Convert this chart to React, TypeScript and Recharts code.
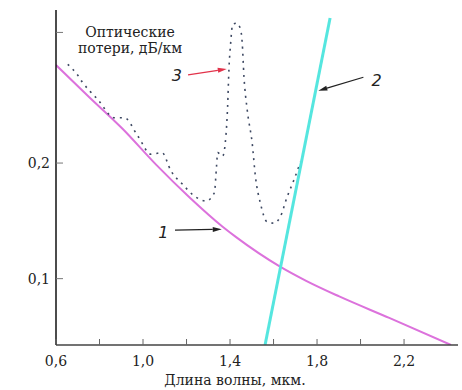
import React from "react";
import {
  LineChart, Line, XAxis, YAxis, ReferenceLine, ReferenceDot,
} from "recharts";

// wavelength, mkm -> losses, dB/km
const RAYLEIGH_X = [0.6, 0.753, 0.907, 1.06, 1.213, 1.366, 1.428, 1.63, 1.75, 1.902, 2.132, 2.416];
const RAYLEIGH_Y = [0.2848, 0.2569, 0.2294, 0.1986, 0.1704, 0.1449, 0.1359, 0.1104, 0.0981, 0.0846, 0.066, 0.0426];

const IR_X = [1.561, 1.86];
const IR_Y = [0.0426, 0.3255];

const TOTAL_X = [
  0.654, 0.696, 0.723, 0.757, 0.792, 0.868, 0.914, 0.976, 1.037, 1.087, 1.129, 1.182, 1.236, 1.29,
  1.328, 1.338, 1.343, 1.366, 1.381, 1.389, 1.395, 1.403, 1.412, 1.43, 1.448, 1.456, 1.464, 1.479,
  1.502, 1.517, 1.54, 1.571, 1.6, 1.63, 1.663, 1.693, 1.724,
];
const TOTAL_Y = [
  0.2854, 0.277, 0.2695, 0.262, 0.255, 0.2392, 0.2392, 0.2234, 0.2076, 0.209, 0.193, 0.1816, 0.1715, 0.1672,
  0.1743, 0.1974, 0.209, 0.206, 0.2234, 0.2493, 0.281, 0.304, 0.32, 0.321, 0.316, 0.304, 0.275, 0.246,
  0.217, 0.188, 0.165, 0.149, 0.148, 0.153, 0.171, 0.185, 0.201,
];

const X_TICKS = [0.6, 0.8, 1.0, 1.2, 1.4, 1.6, 1.8, 2.0, 2.2];
const X_LABELLED = [0.6, 1.0, 1.4, 1.8, 2.2];
const Y_TICKS = [0.1, 0.2, 0.313];
const Y_LABELLED = [0.1, 0.2];

const ANNOTATIONS = [
  { label: "1", at: [1.093, 0.1406], from: [1.147, 0.142], to: [1.362, 0.1427], color: "#222" },
  { label: "2", at: [2.074, 0.2718], from: [2.013, 0.2742], to: [1.806, 0.2626], color: "#222" },
  { label: "3", at: [1.155, 0.2762], from: [1.207, 0.2762], to: [1.385, 0.2814], color: "#e2324a" },
];

const zip = (xs: number[], ys: number[]) => xs.map((x, i) => ({ x, y: ys[i] }));
const rayleigh = zip(RAYLEIGH_X, RAYLEIGH_Y);
const infrared = zip(IR_X, IR_Y);
const total = zip(TOTAL_X, TOTAL_Y);

const fmt = (v: number) => v.toFixed(1).replace(".", ",");
const has = (arr: number[], v: number) => arr.some((a) => Math.abs(a - v) < 1e-6);
// only DejaVu Serif resolves to a serif face in the sandbox
const SERIF = "DejaVu Serif";

function XTick({ x, y, payload }: any) {
  const axisY = y - 10;
  return (
    <g>
      <line x1={x} x2={x} y1={axisY} y2={axisY - 6} stroke="#666" />
      {has(X_LABELLED, payload.value) && (
        <text x={x} y={axisY + 21} textAnchor="middle" fontSize={14} fontFamily={SERIF} fill="#222">
          {fmt(payload.value)}
        </text>
      )}
    </g>
  );
}

function YTick({ x, y, payload }: any) {
  const axisX = x + 6;
  return (
    <g>
      <line x1={axisX} x2={axisX + 7} y1={y} y2={y} stroke="#777" />
      {has(Y_LABELLED, payload.value) && (
        <text x={x} y={y + 5} textAnchor="end" fontSize={14} fontFamily={SERIF} fill="#222">
          {fmt(payload.value)}
        </text>
      )}
    </g>
  );
}

function Arrow({ x1, y1, x2, y2, stroke }: any) {
  const dx = x2 - x1, dy = y2 - y1;
  const len = Math.hypot(dx, dy) || 1;
  const ux = dx / len, uy = dy / len;
  const bx = x2 - ux * 9, by = y2 - uy * 9;
  return (
    <g>
      <line x1={x1} y1={y1} x2={bx} y2={by} stroke={stroke} strokeWidth={1.2} />
      <polygon
        points={`${x2},${y2} ${bx - uy * 2.5},${by + ux * 2.5} ${bx + uy * 2.5},${by - ux * 2.5}`}
        fill={stroke}
      />
    </g>
  );
}

export default function App() {
  return (
    <div style={{ position: "absolute", left: 0, top: 0, width: 462, height: 390, background: "#fff" }}>
      <LineChart width={462} height={390} margin={{ top: 10, right: 4, left: 0, bottom: 0 }}>
        <XAxis
          type="number"
          dataKey="x"
          domain={[0.6, 2.448]}
          allowDataOverflow
          ticks={X_TICKS}
          interval={0}
          height={45}
          tickSize={0}
          tickMargin={10}
          tickLine={false}
          tick={<XTick />}
          axisLine={{ stroke: "#444", strokeWidth: 1.5 }}
        />
        <YAxis
          type="number"
          domain={[0.0426, 0.3324]}
          allowDataOverflow
          ticks={Y_TICKS}
          interval={0}
          width={56}
          tickSize={0}
          tickMargin={6}
          tickLine={false}
          tick={<YTick />}
          axisLine={{ stroke: "#111", strokeWidth: 1.5 }}
        />
        <Line data={rayleigh} dataKey="y" type="monotone" stroke="#dc72dc" strokeWidth={2}
          dot={false} isAnimationActive={false} />
        <Line data={total} dataKey="y" type="monotone" stroke="#3d4862" strokeWidth={1.6}
          strokeDasharray="2 5" dot={false} isAnimationActive={false} />
        <Line data={infrared} dataKey="y" type="linear" stroke="#55e6df" strokeWidth={3}
          dot={false} isAnimationActive={false} />
        {ANNOTATIONS.map((a) => (
          <ReferenceLine
            key={"l" + a.label}
            segment={[{ x: a.from[0], y: a.from[1] }, { x: a.to[0], y: a.to[1] }]}
            stroke={a.color}
            shape={(p: any) => <Arrow {...p} stroke={a.color} />}
          />
        ))}
        {ANNOTATIONS.map((a) => (
          <ReferenceDot
            key={"t" + a.label}
            x={a.at[0]}
            y={a.at[1]}
            r={0}
            shape={(p: any) => (
              <text x={p.cx} y={p.cy + 6} textAnchor="middle" fontSize={16} fontStyle="italic"
                fontFamily="DejaVu Sans, sans-serif" fill="#222">
                {a.label}
              </text>
            )}
          />
        ))}
      </LineChart>
      <div style={{
        position: "absolute", left: 60, top: 24, width: 140, textAlign: "center",
        fontFamily: SERIF, fontSize: 14, lineHeight: "16px", color: "#222",
      }}>
        Оптические<br />потери, дБ/км
      </div>
      <div style={{
        position: "absolute", left: 135, top: 373, width: 200, textAlign: "center",
        fontFamily: SERIF, fontSize: 14, lineHeight: "15px", color: "#222",
      }}>
        Длина волны, мкм.
      </div>
    </div>
  );
}
